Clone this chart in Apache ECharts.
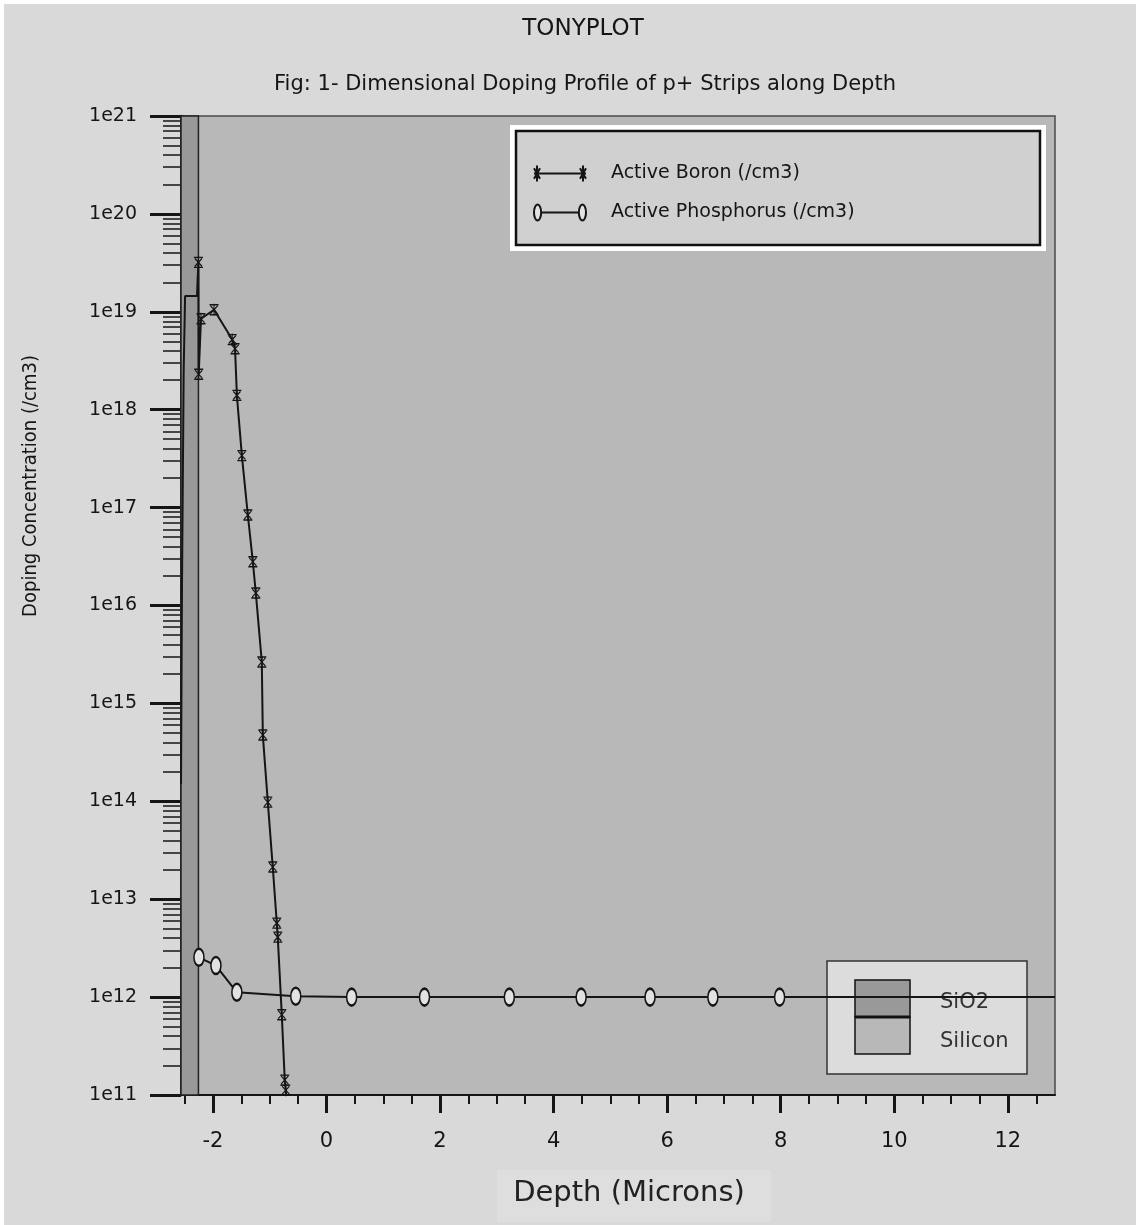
<!DOCTYPE html>
<html>
<head>
<meta charset="utf-8">
<title>TONYPLOT</title>
<script src="https://cdn.jsdelivr.net/npm/echarts@6/dist/echarts.min.js"></script>
<style>
  html, body { margin: 0; padding: 0; background: #ffffff; }
  #chart { width: 1136px; height: 1225px; }
</style>
</head>
<body>
<div id="chart"></div>
<script>
// depth (microns) and active boron concentration (/cm3)
var boronX = [-2.562, -2.545, -2.515, -2.49, -2.28, -2.27, -2.255, -2.25, -2.21, -1.98, -1.66, -1.61, -1.578,
  -1.49, -1.385, -1.297, -1.244, -1.139, -1.121, -1.033, -0.946, -0.875, -0.858, -0.787, -0.735, -0.717, -0.70];
var boronY = [1.5e14, 1.5e16, 2.5e18, 1.45e19, 1.45e19, 2.1e19, 3.2e19, 2.3e18, 8.5e18, 1.05e19, 5.2e18, 4.2e18, 1.4e18,
  3.4e17, 8.4e16, 2.8e16, 1.34e16, 2.65e15, 4.75e14, 9.8e13, 2.13e13, 5.7e12, 4.1e12, 6.6e11, 1.42e11, 1.12e11, 8e10];

// depth (microns) and active phosphorus concentration (/cm3)
var phosX = [-2.246, -1.947, -1.578, -0.541, 0.443, 1.726, 3.22, 4.485, 5.698, 6.805, 7.98, 12.83];
var phosY = [2.55e12, 2.1e12, 1.12e12, 1.02e12, 1.0e12, 1.0e12, 1.0e12, 1.0e12, 1.0e12, 1.0e12, 1.0e12, 1.0e12];

// SiO2 layer from the surface to the interface
var oxideRange = [-2.562, -2.255];
var xRange = [-2.562, 12.83];
var xLabels = [-2, 0, 2, 4, 6, 8, 10, 12];
var xMinorTicks = [-2.5, -1.5, -1, -0.5, 0.5, 1, 1.5, 2.5, 3, 3.5, 4.5, 5, 5.5, 6.5, 7, 7.5,
  8.5, 9, 9.5, 10.5, 11, 11.5, 12.5];
var yDecades = [11, 12, 13, 14, 15, 16, 17, 18, 19, 20, 21];
var yMinorSteps = [2, 3, 4, 5, 6, 7, 8, 9];

var seriesNames = ['Active Boron (/cm3)', 'Active Phosphorus (/cm3)'];
var regionNames = ['SiO2', 'Silicon'];

var FONT = "'DejaVu Sans', sans-serif";
var FONT_C = "'DejaVu Sans Condensed', 'DejaVu Sans', sans-serif";
var INK = '#151515';
var PLOT_BG = '#b8b8b8';
var OXIDE = '#999999';

var BORON_MARK = 'path://M0,1L10,1M0,11L10,11M5,0L5,12M1,2L9,10M9,2L1,10';
var BORON_ICON = 'path://M0,7L52,7M3,1L3,13M0,3L6,11M6,3L0,11M49,1L49,13M46,3L52,11M52,3L46,11';
var PHOS_ICON = 'path://M0.5,7A3.5,6.5,0,1,1,7.5,7A3.5,6.5,0,1,1,0.5,7ZM7.5,7L44.5,7M44.5,7A3.5,6.5,0,1,1,51.5,7A3.5,6.5,0,1,1,44.5,7Z';

var yMinorExp = [];
yDecades.slice(0, -1).forEach(function(d) {
  yMinorSteps.forEach(function(k) {
    yMinorExp.push(d + Math.log10(k));
  });
});

var boronData = boronX.map(function(x, i) {
  var item = { value: [x, boronY[i]] };
  if (x < oxideRange[1] - 0.001) item.symbol = 'none';
  return item;
});
var phosData = phosX.map(function(x, i) {
  var item = { value: [x, phosY[i]] };
  if (i === phosX.length - 1) item.symbol = 'none';
  return item;
});

var chart = echarts.init(document.getElementById('chart'));

var option = {
  animation: false,
  backgroundColor: '#d9d9d9',
  grid: {
    left: 181,
    top: 116,
    right: 81,
    bottom: 130,
    show: true,
    backgroundColor: PLOT_BG,
    borderColor: '#4a4a4a',
    borderWidth: 1.5,
    outerBoundsMode: 'none'
  },
  legend: {
    data: [
      { name: seriesNames[0], icon: BORON_ICON },
      { name: seriesNames[1], icon: PHOS_ICON }
    ],
    orient: 'vertical',
    left: 533,
    top: 164,
    itemWidth: 52,
    itemHeight: 16,
    itemGap: 20,
    padding: 0,
    symbolKeepAspect: false,
    itemStyle: { borderColor: INK, borderWidth: 2 },
    textStyle: {
      fontSize: 19,
      fontFamily: FONT,
      color: INK,
      padding: [2, 0, 0, 20]
    }
  },
  xAxis: [
    {
      type: 'value',
      min: xRange[0],
      max: xRange[1],
      position: 'bottom',
      axisLine: { show: true, onZero: false, lineStyle: { color: INK, width: 2 } },
      axisTick: {
        show: true,
        customValues: xLabels,
        length: 18,
        lineStyle: { color: INK, width: 3 }
      },
      axisLabel: {
        customValues: xLabels,
        margin: 36,
        fontSize: 21,
        fontFamily: FONT,
        color: INK
      },
      splitLine: { show: false }
    },
    {
      type: 'value',
      min: xRange[0],
      max: xRange[1],
      position: 'bottom',
      axisLine: { show: false, onZero: false },
      axisTick: {
        show: true,
        customValues: xMinorTicks,
        length: 9,
        lineStyle: { color: INK, width: 2 }
      },
      axisLabel: { show: false },
      splitLine: { show: false }
    }
  ],
  yAxis: [
    {
      type: 'log',
      logBase: 10,
      min: Math.pow(10, yDecades[0]),
      max: Math.pow(10, yDecades[yDecades.length - 1]),
      position: 'left',
      axisLine: { show: true, onZero: false, lineStyle: { color: INK, width: 2.5 } },
      axisTick: { show: false },
      axisLabel: { show: false },
      splitLine: { show: false }
    },
    {
      type: 'value',
      min: yDecades[0],
      max: yDecades[yDecades.length - 1],
      position: 'left',
      axisLine: { show: false, onZero: false },
      axisTick: {
        show: true,
        customValues: yDecades,
        length: 31,
        lineStyle: { color: INK, width: 3 }
      },
      axisLabel: {
        customValues: yDecades,
        margin: 44,
        fontSize: 19,
        fontFamily: FONT,
        color: INK,
        formatter: function(v) { return '1e' + Math.round(v); }
      },
      splitLine: { show: false }
    },
    {
      type: 'value',
      min: yDecades[0],
      max: yDecades[yDecades.length - 1],
      position: 'left',
      axisLine: { show: false, onZero: false },
      axisTick: {
        show: true,
        customValues: yMinorExp,
        length: 18,
        lineStyle: { color: INK, width: 1.5 }
      },
      axisLabel: { show: false },
      splitLine: { show: false }
    }
  ],
  series: [
    {
      name: 'oxide',
      type: 'line',
      z: 1,
      silent: true,
      data: [[oxideRange[0], Math.pow(10, yDecades[0])]],
      symbol: 'none',
      lineStyle: { opacity: 0 },
      markArea: {
        silent: true,
        itemStyle: { color: OXIDE, borderColor: '#222', borderWidth: 1.5 },
        data: [[
          { xAxis: oxideRange[0], yAxis: Math.pow(10, yDecades[0]) },
          { xAxis: oxideRange[1], yAxis: Math.pow(10, yDecades[yDecades.length - 1]) }
        ]]
      }
    },
    {
      name: seriesNames[0],
      type: 'line',
      z: 3,
      clip: true,
      data: boronData,
      symbol: BORON_MARK,
      symbolSize: [9, 12],
      showAllSymbol: true,
      itemStyle: { color: INK, borderColor: INK, borderWidth: 1.2 },
      lineStyle: { color: INK, width: 2 }
    },
    {
      name: seriesNames[1],
      type: 'line',
      z: 3,
      clip: true,
      data: phosData,
      symbol: 'circle',
      symbolSize: [10, 17],
      showAllSymbol: true,
      itemStyle: { color: '#e2e2e2', borderColor: INK, borderWidth: 2 },
      lineStyle: { color: INK, width: 2 }
    }
  ],
  graphic: [
    { type: 'rect', z: 0, shape: { x: 0, y: 0, width: 1136, height: 4 }, style: { fill: '#ffffff' } },
    { type: 'rect', z: 0, shape: { x: 0, y: 0, width: 4, height: 1225 }, style: { fill: '#ffffff' } },
    {
      type: 'text', z: 5, x: 583, y: 29,
      style: { text: 'TONYPLOT', fontSize: 23, fontFamily: FONT, fill: INK, align: 'center', verticalAlign: 'middle' }
    },
    {
      type: 'text', z: 5, x: 585, y: 85,
      style: { text: 'Fig: 1- Dimensional Doping Profile of p+ Strips along Depth', fontSize: 21, fontFamily: FONT, fill: INK, align: 'center', verticalAlign: 'middle' }
    },
    {
      type: 'text', z: 5, x: 31, y: 486, rotation: Math.PI / 2,
      style: { text: 'Doping Concentration (/cm3)', fontSize: 20, fontFamily: FONT_C, fill: INK, align: 'center', verticalAlign: 'middle' }
    },
    { type: 'rect', z: 0, shape: { x: 497, y: 1170, width: 274, height: 52 }, style: { fill: '#dedede' } },
    {
      type: 'text', z: 5, x: 629, y: 1193,
      style: { text: 'Depth (Microns)', fontSize: 29, fontFamily: FONT, fill: '#222', align: 'center', verticalAlign: 'middle' }
    },
    // series legend frame
    { type: 'rect', z: 1, shape: { x: 510, y: 125, width: 536, height: 126 }, style: { fill: '#ffffff' } },
    { type: 'rect', z: 1, shape: { x: 516, y: 131, width: 524, height: 114 }, style: { fill: '#d0d0d0', stroke: '#111', lineWidth: 2.5 } },
    // material legend
    { type: 'rect', z: 1, shape: { x: 827, y: 961, width: 200, height: 113 }, style: { fill: '#dcdcdc', stroke: '#333', lineWidth: 1.5 } },
    { type: 'rect', z: 1, shape: { x: 855, y: 980, width: 55, height: 37 }, style: { fill: OXIDE, stroke: '#111', lineWidth: 1.5 } },
    { type: 'rect', z: 1, shape: { x: 855, y: 1017, width: 55, height: 37 }, style: { fill: PLOT_BG, stroke: '#111', lineWidth: 1.5 } },
    { type: 'line', z: 1, shape: { x1: 855, y1: 1017, x2: 910, y2: 1017 }, style: { stroke: '#111', lineWidth: 3 } },
    {
      type: 'text', z: 1, x: 940, y: 1003,
      style: { text: regionNames[0], fontSize: 21, fontFamily: FONT, fill: '#333', verticalAlign: 'middle' }
    },
    {
      type: 'text', z: 1, x: 940, y: 1042,
      style: { text: regionNames[1], fontSize: 21, fontFamily: FONT, fill: '#333', verticalAlign: 'middle' }
    }
  ]
};

chart.setOption(option);
</script>
</body>
</html>
